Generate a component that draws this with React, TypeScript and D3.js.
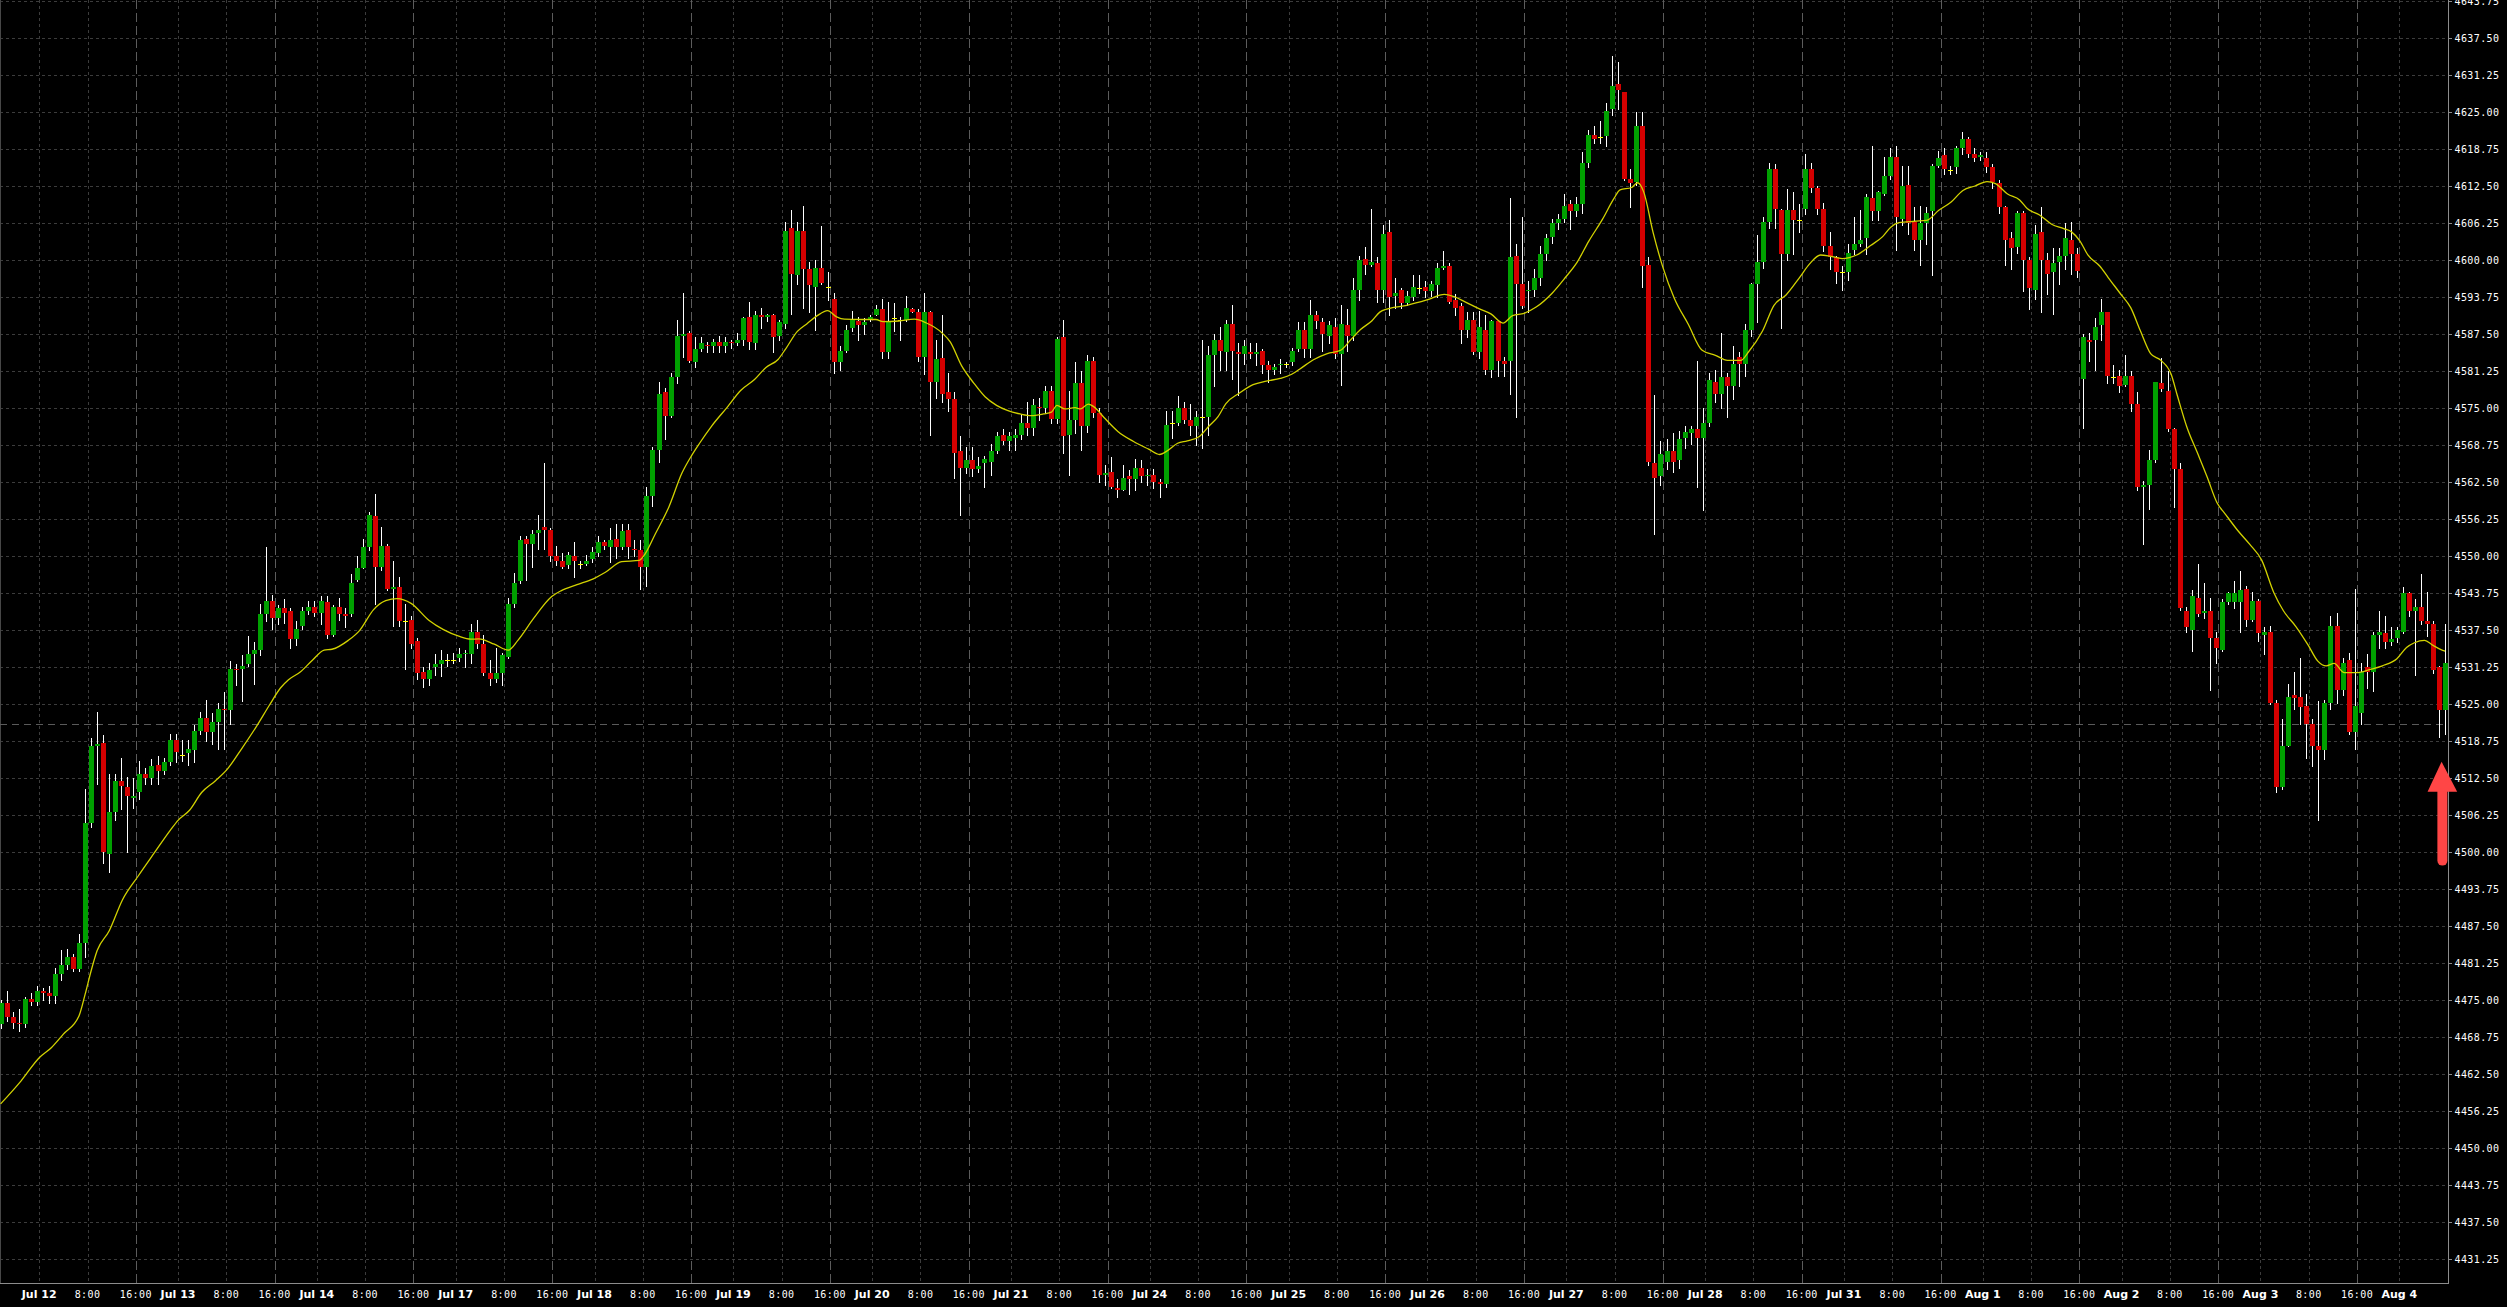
import React from "react";
import * as d3 from "d3";

const WIDTH = 2507;
const HEIGHT = 1307;
const PLOT_W = 2448; // x of right price axis line
const PLOT_H = 1283; // y of bottom time axis line

// ---------- data ----------
const dayLabels = ["Jul 12", "Jul 13", "Jul 14", "Jul 17", "Jul 18", "Jul 19", "Jul 20", "Jul 21", "Jul 24", "Jul 25", "Jul 26", "Jul 27", "Jul 28", "Jul 31", "Aug 1", "Aug 2", "Aug 3", "Aug 4"];
const hourLabels = ["8:00", "16:00"];
const hourOffsets = [8, 16];
const preBars = 6; // hourly bars of Jul 11 shown before Jul 12
const barsPerDay = 23;

const priceTicks = [4431.25, 4437.5, 4443.75, 4450, 4456.25, 4462.5, 4468.75, 4475, 4481.25, 4487.5, 4493.75, 4500, 4506.25, 4512.5, 4518.75, 4525, 4531.25, 4537.5, 4543.75, 4550, 4556.25, 4562.5, 4568.75, 4575, 4581.25, 4587.5, 4593.75, 4600, 4606.25, 4612.5, 4618.75, 4625, 4631.25, 4637.5, 4643.75];
const priceDomain = [4427.25, 4643.97];
const refLevel = 4521.75;
const arrowTop = 4515.3;
const arrowBottom = 4498.6;

const opens = [
4471, 4474.5, 4472.25, 4471.25, 4471, 4475.25, 4474.75, 4476.5, 4476.25, 4475.75,
4479.5, 4481, 4482.25, 4480.25, 4484.75, 4505, 4518, 4518.5, 4499.75, 4506.75,
4512, 4511, 4509.25, 4510.25, 4513.25, 4512.5, 4514.75, 4513.75, 4515.25, 4519,
4516.5, 4516.75, 4517.25, 4520.5, 4522.75, 4520.25, 4522, 4524.25, 4524, 4531,
4531, 4531.75, 4533.5, 4534.25, 4540.25, 4542.5, 4539.5, 4541.25, 4540.75, 4536,
4538.25, 4540.75, 4541.5, 4540.5, 4542.25, 4536.75, 4541.5, 4540.25, 4540.25, 4546,
4548, 4551.5, 4556.75, 4548.25, 4551.75, 4544.5, 4544.75, 4539, 4539.25, 4535.75,
4530.5, 4529.25, 4531.25, 4531.75, 4532.5, 4532.5, 4532.75, 4533.5, 4533.5, 4537.25,
4535.25, 4530.25, 4529.25, 4530.25, 4533, 4542, 4545.75, 4553, 4552, 4554,
4555, 4554.5, 4550, 4549.25, 4548.5, 4550, 4548.75, 4548.75, 4549.5, 4550.5,
4552.5, 4551.5, 4553, 4551.5, 4554.5, 4551.25, 4551, 4548.25, 4560.25, 4568,
4577.75, 4573.75, 4580.25, 4587.25, 4587.75, 4582.75, 4585, 4585.75, 4585.5, 4586.25,
4585.5, 4586.25, 4586, 4586.5, 4590.5, 4586, 4590.75, 4590.5, 4590.75, 4587.25,
4589.25, 4605.5, 4597.5, 4605, 4598.5, 4595.5, 4598.75, 4595.5, 4593.5, 4582.75,
4584.75, 4588.5, 4589.75, 4589, 4590, 4590.75, 4591.75, 4584.5, 4590.25, 4590,
4590, 4591.75, 4591.25, 4583.75, 4591.25, 4579.5, 4583.5, 4577.75, 4576.5, 4567.75,
4565, 4566.25, 4564.75, 4565.75, 4566, 4567.75, 4570.5, 4569.5, 4570, 4570.5,
4572.5, 4571.75, 4575.25, 4575, 4578, 4573.25, 4587, 4570.5, 4573, 4579.25,
4572, 4583, 4574.25, 4563.75, 4564.25, 4561.5, 4561.25, 4563.5, 4563, 4565,
4563.5, 4563.75, 4562.5, 4562.25, 4572.5, 4572.5, 4575, 4573, 4572, 4573.5,
4573.5, 4584, 4586.5, 4584.5, 4589.25, 4584.5, 4584.25, 4584.5, 4584.25, 4584.75,
4582.25, 4581.5, 4582.25, 4582.5, 4582.75, 4585, 4588.25, 4585, 4590.75, 4589.5,
4587.25, 4588.75, 4584.25, 4589, 4587.25, 4595, 4600.25, 4599.25, 4599.5, 4595,
4604.75, 4594, 4595, 4592.75, 4593.75, 4595.25, 4595.5, 4594.75, 4595.75, 4598.75,
4599, 4593.25, 4592.25, 4588.25, 4590, 4584.5, 4588.25, 4581.5, 4589.75, 4583,
4583, 4600.75, 4596, 4594.75, 4595, 4597, 4601, 4604, 4606.25, 4607,
4609.5, 4608.25, 4609.5, 4616.5, 4621.25, 4620.75, 4621, 4625.5, 4629.75, 4628.5,
4613.75, 4613.25, 4622.75, 4599.25, 4565.75, 4563.5, 4566, 4567.75, 4566.25, 4570,
4570.75, 4571.5, 4570, 4572.5, 4579.5, 4577.5, 4580.25, 4578.75, 4583.75, 4582.5,
4588.25, 4596, 4599.75, 4606.5, 4615.5, 4608.5, 4601, 4608.5, 4606.75, 4608.75,
4615.5, 4612.25, 4608.75, 4602.5, 4600.5, 4598, 4598, 4601.75, 4602.75, 4603.75,
4610.5, 4608.25, 4611.25, 4614.25, 4617.5, 4607, 4612.75, 4606.5, 4603.5, 4606.25,
4608.25, 4616, 4617.75, 4615.25, 4615.75, 4619, 4620.5, 4618, 4617.5, 4617.25,
4615.75, 4613, 4609, 4603.75, 4602.25, 4608, 4600, 4595, 4604.75, 4600,
4598, 4599.75, 4600.75, 4603.5, 4601, 4580, 4586.5, 4586.5, 4589, 4591.25,
4580.25, 4580.5, 4579, 4580.5, 4575.75, 4561.75, 4562, 4566.25, 4579.25, 4578,
4571.5, 4564.75, 4540.75, 4537.5, 4543, 4540.5, 4540.75, 4536.25, 4534.25, 4542.25,
4542.25, 4542.25, 4544.5, 4539.25, 4542.5, 4536.75, 4537.25, 4525.25, 4511, 4518,
4526.5, 4526.25, 4524.75, 4521.75, 4518, 4517.25, 4525.25, 4538.25, 4527.5, 4532.5,
4520.25, 4523.5, 4531.25, 4530.5, 4536.75, 4537, 4535.5, 4536.25, 4537.25, 4543.75,
4540.75, 4541.5, 4539, 4538.5, 4531.25, 4524
];

const highs = [
4475, 4476.5, 4473, 4473.5, 4475.5, 4476.25, 4477.5, 4477, 4477.5, 4480.5,
4483.5, 4483.75, 4482.75, 4486.25, 4510.75, 4519.25, 4523.75, 4519.75, 4513.25, 4513.25,
4516, 4512.75, 4512.5, 4515.5, 4514.25, 4515.75, 4516.25, 4516, 4520, 4520,
4519, 4519, 4521.5, 4523.75, 4525.75, 4523.5, 4525.25, 4527, 4532.25, 4531.75,
4533.25, 4536.5, 4535.5, 4542, 4551.5, 4543.5, 4541.75, 4542.75, 4541.25, 4539,
4541.5, 4542.5, 4542.5, 4543.25, 4543.25, 4541.75, 4543, 4541.25, 4547, 4550,
4553, 4557.5, 4560.5, 4555, 4552, 4549.25, 4546.5, 4542, 4540, 4536.25,
4531.25, 4532, 4533.5, 4534.25, 4533.5, 4533.75, 4534.5, 4534.25, 4538.5, 4539.25,
4536.75, 4532.5, 4534.5, 4533.75, 4543, 4547.25, 4553.5, 4553.5, 4554.5, 4557,
4565.75, 4554.75, 4551.75, 4550.5, 4550.75, 4552.5, 4549.25, 4550.25, 4551.5, 4553.5,
4552.75, 4554.75, 4555.5, 4555.5, 4555.5, 4552.75, 4552.75, 4561.75, 4568.5, 4579.5,
4578.5, 4581, 4590, 4594.5, 4588, 4587, 4587, 4586.25, 4586.75, 4587.25,
4587, 4586.5, 4587.75, 4590.5, 4593, 4591.5, 4592, 4591, 4591, 4590,
4606.5, 4608.5, 4606.5, 4609.25, 4599.75, 4600, 4605.75, 4598, 4594.5, 4585.5,
4589, 4591.5, 4590.5, 4590.25, 4590.75, 4592.5, 4593.5, 4593, 4592.75, 4590.5,
4594, 4592, 4591.75, 4594.5, 4591.5, 4586.5, 4590.75, 4581, 4577.75, 4570.25,
4568.5, 4568.5, 4566.75, 4567, 4569, 4571, 4571.5, 4571, 4571.5, 4574,
4576, 4576.5, 4576.75, 4578.75, 4578.75, 4587, 4590, 4578, 4582.75, 4581.25,
4584, 4583.75, 4575, 4565.5, 4566.75, 4563, 4565.5, 4564.5, 4566.5, 4566.25,
4564.75, 4564.75, 4563, 4574.5, 4574.5, 4577, 4576, 4575.75, 4574.5, 4586.5,
4585.5, 4587.5, 4588.75, 4590, 4592.5, 4586, 4586.5, 4586, 4586, 4585,
4583, 4582.5, 4583.25, 4582.75, 4585.25, 4589.5, 4589.5, 4593.25, 4591.5, 4590.25,
4589.75, 4590.25, 4592.5, 4591.75, 4597, 4600.75, 4602.25, 4608.75, 4600.5, 4606,
4606.75, 4597, 4595.25, 4594.75, 4597.5, 4597.5, 4596.5, 4596.5, 4599.5, 4601.5,
4599.5, 4594.25, 4592.75, 4591.25, 4591.25, 4591.5, 4590.75, 4590, 4590, 4583.75,
4610.5, 4602.75, 4607.25, 4596.5, 4598.5, 4602.5, 4604.5, 4607, 4607.75, 4611.25,
4610.25, 4610.75, 4618.25, 4622, 4622.75, 4623.5, 4626.5, 4634.5, 4633.5, 4628.5,
4615.5, 4625, 4625, 4600.5, 4577.25, 4569.5, 4569.75, 4570.75, 4571.25, 4572,
4572, 4583, 4575, 4581, 4581.5, 4587.75, 4581, 4585.5, 4584.5, 4589.25,
4596.25, 4604.25, 4607.25, 4616.5, 4616.25, 4608.75, 4612, 4611.5, 4609.5, 4618,
4616.5, 4612.5, 4609.75, 4604.75, 4600.75, 4599, 4602.75, 4607.25, 4608.5, 4611.25,
4619.25, 4611.75, 4617.5, 4619, 4619.25, 4616, 4616, 4609, 4609.25, 4609,
4616.25, 4618.5, 4619, 4616, 4619.25, 4621.75, 4620.75, 4619, 4618.25, 4618.25,
4616.25, 4613.5, 4609.25, 4604.75, 4608.25, 4608.25, 4600.5, 4606, 4609, 4601.25,
4602, 4602, 4606.25, 4606.5, 4602, 4587.5, 4587.75, 4590.25, 4593.5, 4591.25,
4582.25, 4581.5, 4584, 4581.25, 4577.75, 4562.75, 4568, 4579.5, 4583.5, 4581.25,
4571.75, 4565.75, 4541.5, 4544.25, 4548.75, 4545.5, 4543, 4537.25, 4542.75, 4544,
4545.75, 4547.5, 4545, 4544, 4542.75, 4538, 4538.25, 4525.75, 4522.5, 4528.5,
4530.5, 4532.75, 4526.75, 4522.5, 4525.5, 4525.75, 4540, 4540.5, 4532.75, 4533.75,
4544.5, 4532, 4533.5, 4537.25, 4540.75, 4540, 4538, 4538, 4544.75, 4544,
4542.75, 4547, 4544, 4539, 4531.5, 4538.5
];

const lows = [
4470.25, 4471.5, 4470.25, 4469.75, 4470.5, 4474.25, 4474.25, 4475, 4474.5, 4474.5,
4478.5, 4480.25, 4480, 4480, 4482.25, 4504.25, 4511.5, 4498.25, 4496.75, 4505.5,
4507.25, 4500, 4507.5, 4509, 4511.5, 4511.5, 4511.5, 4513.25, 4514.75, 4515.25,
4515.5, 4514.75, 4515.25, 4520, 4518.75, 4518.25, 4517.5, 4517.5, 4521.75, 4528.25,
4525.5, 4531.5, 4528.5, 4533.25, 4539, 4537.75, 4538.5, 4538.75, 4534.5, 4535,
4537.75, 4540.25, 4540, 4538.5, 4536.25, 4536.5, 4539.25, 4538, 4540, 4545.75,
4548, 4551, 4542, 4547.75, 4544.25, 4538.25, 4538.25, 4531, 4534.5, 4529.25,
4528, 4528.25, 4530, 4529.75, 4531.5, 4532, 4532.25, 4531.25, 4532, 4534.5,
4530, 4528.25, 4528.75, 4528.25, 4532.75, 4541.5, 4545.5, 4546, 4548.25, 4551.25,
4551.25, 4549.25, 4548.5, 4548, 4548, 4546.5, 4548, 4548.5, 4549, 4550,
4551.25, 4549, 4549.75, 4551.25, 4549.75, 4550, 4544.5, 4545, 4558.5, 4566,
4569.75, 4573.5, 4579.25, 4583.75, 4582.75, 4582, 4584.75, 4584.5, 4584.5, 4584.5,
4584.5, 4585.25, 4585.75, 4585.75, 4585, 4585, 4588.5, 4589.75, 4584.5, 4586.5,
4588.5, 4591, 4596, 4592, 4591.25, 4588.25, 4596, 4593.25, 4581, 4581.5,
4584.5, 4588, 4586.5, 4587.5, 4589.75, 4590.75, 4583.5, 4583.5, 4588, 4586.5,
4589.75, 4591.25, 4583, 4580.75, 4570.5, 4576.75, 4576, 4574.5, 4563.25, 4557,
4564, 4563.5, 4564.25, 4561.75, 4563.75, 4567.5, 4569, 4568, 4568, 4569.75,
4570.5, 4570.5, 4573, 4574.25, 4572.5, 4572.5, 4567.5, 4563.75, 4570.75, 4568,
4571, 4573.5, 4562.5, 4562, 4561.5, 4560, 4561.25, 4560.5, 4561.25, 4562.5,
4562, 4561.5, 4560, 4561.75, 4570, 4572.25, 4572.5, 4570.5, 4568.75, 4568.25,
4570.5, 4578.75, 4581.5, 4581.5, 4580, 4577.25, 4582.5, 4583.5, 4582.25, 4581,
4579.5, 4580.75, 4581, 4582, 4582.25, 4584.75, 4583.75, 4583.75, 4588.5, 4584.75,
4586, 4583.5, 4579, 4584.75, 4586.5, 4593.25, 4597.75, 4599, 4593, 4593,
4590.75, 4592, 4592, 4592.5, 4593.25, 4594.5, 4593.75, 4594, 4593.75, 4598.5,
4592.75, 4590.75, 4586, 4587, 4584.25, 4583.5, 4580.75, 4580.25, 4580.5, 4580.5,
4577.5, 4573.5, 4592, 4591.25, 4594, 4595.75, 4600, 4603, 4605.25, 4606.5,
4605.25, 4607.5, 4608, 4615.75, 4619.75, 4619.75, 4619.25, 4624.5, 4625.5, 4613.5,
4609, 4612.75, 4595.5, 4565.5, 4553.75, 4562, 4564.75, 4564.25, 4565, 4568.25,
4569, 4561.75, 4557.75, 4572, 4576, 4575, 4573.5, 4576.5, 4578.75, 4580.5,
4587.25, 4589.5, 4598.75, 4605.5, 4605.5, 4588.5, 4600, 4601, 4604.75, 4607.75,
4611.5, 4607.75, 4601.5, 4598.5, 4596.25, 4595, 4596.75, 4601, 4602.5, 4601,
4606.75, 4606.75, 4611, 4613.75, 4601.75, 4606, 4604.5, 4601.75, 4599.25, 4602.75,
4597.5, 4615.75, 4614.5, 4614.5, 4614.75, 4618, 4617.5, 4616.75, 4617, 4615,
4612.25, 4608, 4599.25, 4598.5, 4601.25, 4594.75, 4591.75, 4593.5, 4591.25, 4594.25,
4591, 4596, 4598.5, 4597.75, 4597.25, 4571.75, 4583, 4581.5, 4586.5, 4579.25,
4579.25, 4577.75, 4578.75, 4574.5, 4561.25, 4552, 4558, 4566, 4578, 4571.25,
4558.25, 4541, 4537.25, 4534, 4540, 4539.5, 4527.5, 4532, 4534, 4542,
4541.25, 4537.25, 4538.25, 4539, 4535.75, 4533.5, 4525, 4510.25, 4510.75, 4518,
4524.25, 4521.75, 4516, 4514.5, 4505.5, 4515.75, 4524.25, 4525.25, 4526.5, 4520,
4517.5, 4521.75, 4527.75, 4527.25, 4534.5, 4534.5, 4535, 4535.5, 4537, 4540,
4530, 4538.5, 4536.5, 4530.25, 4519.5, 4520
];

const closes = [
4474.5, 4472.25, 4471.25, 4471, 4475.25, 4474.75, 4476.5, 4476.25, 4475.75, 4479.5,
4481, 4482.25, 4480.25, 4484.75, 4505, 4518, 4518.25, 4500, 4506.75, 4512,
4511.25, 4509.5, 4509.5, 4513.25, 4512.5, 4514.5, 4513.75, 4515.25, 4519, 4517,
4516.5, 4517.5, 4520.5, 4522.75, 4520.25, 4522, 4524.25, 4524, 4531, 4530.75,
4531.5, 4533.5, 4534.25, 4540.25, 4542.5, 4539.5, 4541.25, 4540.5, 4536, 4537.75,
4540.75, 4541.5, 4540.5, 4542.5, 4536.75, 4541.5, 4540.25, 4540, 4545.5, 4548,
4551.5, 4557, 4548.25, 4551.75, 4544.5, 4544.75, 4539, 4539, 4535.25, 4530.25,
4529.25, 4530.75, 4531.75, 4532.5, 4532.5, 4532.5, 4533.5, 4533.75, 4537.25, 4535.25,
4530.25, 4529.25, 4530.25, 4533.25, 4542, 4545.5, 4552.75, 4552, 4553.75, 4554.5,
4554.5, 4550, 4549.25, 4548.25, 4550.25, 4549.25, 4548.75, 4549.25, 4550.75, 4552.5,
4551.75, 4552.75, 4551.5, 4554.25, 4551.5, 4551, 4548.25, 4560.25, 4568, 4577.5,
4573.75, 4580.25, 4587.25, 4587.5, 4583, 4585, 4586, 4585.5, 4586.25, 4585.5,
4586.25, 4586, 4586.5, 4590.25, 4586.25, 4590.75, 4590.5, 4590.75, 4587, 4589.5,
4605, 4597.75, 4605, 4598.5, 4595.75, 4598.75, 4596.25, 4595.5, 4582.75, 4584.75,
4588.25, 4590, 4589, 4589.5, 4590.5, 4591.75, 4584.5, 4589.75, 4590.25, 4590,
4592, 4591.25, 4583.75, 4591.25, 4579.5, 4583.25, 4577.5, 4576.5, 4567.5, 4565,
4566.25, 4564.75, 4565.25, 4566.5, 4567.75, 4570.25, 4569.5, 4570.25, 4570.5, 4572.5,
4571.75, 4575.5, 4575, 4578, 4573.25, 4586.75, 4570.25, 4573, 4579.25, 4572,
4583, 4574.25, 4563.75, 4564, 4561.75, 4561.25, 4563.25, 4563, 4565, 4563.5,
4563.75, 4562.5, 4562.25, 4572.25, 4572.5, 4575, 4573, 4572, 4573.5, 4573.5,
4584, 4586.5, 4584.75, 4589.25, 4584.75, 4584.25, 4585.5, 4584.25, 4584.5, 4582.25,
4581.5, 4582, 4582.5, 4582.5, 4584.75, 4588.25, 4585, 4590.75, 4589.75, 4587.5,
4589, 4584.25, 4589.25, 4587.25, 4595, 4600, 4599.25, 4599.75, 4595, 4604.5,
4593.75, 4594.5, 4592.75, 4594, 4595.5, 4595.25, 4594.75, 4596, 4598.75, 4599,
4593, 4592, 4588.25, 4590, 4584.5, 4588.75, 4581.5, 4589.75, 4583, 4582.5,
4600.5, 4596, 4592.25, 4595, 4597, 4601, 4603.75, 4606.25, 4607, 4609.25,
4608.25, 4609.5, 4616.5, 4621.25, 4620.5, 4620.75, 4625.25, 4629.5, 4628.75, 4613.75,
4613, 4622.75, 4599, 4566, 4563.25, 4567.25, 4567.75, 4566, 4569.75, 4571,
4571.5, 4570, 4572.5, 4579.75, 4577.5, 4580.25, 4578.75, 4582.5, 4582.5, 4588.25,
4596, 4599.75, 4606.5, 4615.5, 4608.75, 4601, 4608.5, 4606.75, 4606.75, 4615.5,
4612.25, 4608.75, 4602.5, 4600.5, 4598, 4598, 4601.25, 4602.75, 4603.5, 4610.75,
4608.25, 4611.5, 4614.25, 4617.5, 4607.25, 4612.5, 4606.25, 4603.5, 4606.25, 4608,
4616, 4617.25, 4615.5, 4615.25, 4619, 4620.5, 4618, 4617.25, 4617.75, 4615.75,
4613.25, 4609, 4603.5, 4602, 4608, 4600, 4595.25, 4604.5, 4600, 4597.75,
4599.5, 4600.75, 4603.75, 4601, 4598.25, 4587, 4586.25, 4588.75, 4591.25, 4580.5,
4580.25, 4578.75, 4580.5, 4575.75, 4561.75, 4562, 4566.25, 4579.5, 4578.25, 4571.5,
4564.75, 4541.25, 4538, 4543.25, 4540.25, 4540.75, 4536.25, 4534.5, 4542.25, 4543.75,
4543.75, 4544.25, 4539.25, 4542.5, 4537, 4537.25, 4525.25, 4511, 4518, 4526.25,
4526, 4524.5, 4521.75, 4518, 4517.25, 4525.25, 4538.25, 4527.5, 4532, 4520.25,
4524.75, 4530.5, 4530.5, 4536.75, 4537.25, 4535.5, 4536, 4537.5, 4543.75, 4540.75,
4541.5, 4539, 4538.5, 4530.75, 4524, 4532
];

// moving average at these bar positions
const maBar = [0, 3.4, 6.4, 8.4, 10.4, 13, 14, 15, 16, 18, 20.2, 22.8, 25.4, 28.1, 29.4, 31.3, 33.3, 35.6, 37.6, 39.9, 42.5, 44.5, 46.4, 47.7, 49.7, 51.7, 53.6, 54.9, 57.6, 59.5, 61.8, 63.8, 65.7, 68, 71, 73.3, 75.9, 77.9, 79.2, 81.8, 84.1, 85.7, 88.3, 91.3, 92.9, 95.5, 98.2, 100.2, 102.9, 105.8, 106.8, 108.4, 110.7, 112.9, 114.5, 115.8, 117.8, 120.4, 122.6, 124.9, 126.8, 128.8, 130.1, 132, 133.6, 135.3, 137, 138.5, 139.8, 142.4, 145, 146.2, 148.8, 151.4, 153.3, 156, 157.3, 159.2, 161.2, 163.1, 165, 166.9, 168.9, 170.8, 172.8, 174.1, 175, 176.3, 178, 178.9, 180.2, 181.2, 182.8, 185.1, 187.7, 190.2, 192, 193.4, 195, 196.6, 198.6, 200.2, 201.7, 203, 205.2, 207.5, 209.7, 212, 213.9, 215.2, 217.5, 219.8, 222, 223.7, 225.3, 227.2, 228.5, 229.8, 233, 236.3, 239.2, 240.8, 242.7, 245, 246.9, 248.9, 250.5, 252.4, 254.4, 257, 259.2, 261.2, 263.1, 265.4, 267.3, 268.3, 270.2, 271.2, 272.2, 273.8, 275.4, 277.3, 279.6, 281.9, 284.1, 286.1, 288.3, 289.6, 291.9, 293.8, 295.8, 298, 299.7, 301.5, 303.1, 305.1, 307.5, 309.8, 311.8, 313.1, 314.5, 317.1, 319.1, 321.1, 323.1, 325.1, 327.1, 329.1, 330.5, 332.5, 334.5, 335.8, 337.8, 339.8, 341.8, 343.1, 344.5, 345.8, 347.8, 349.2, 351.2, 352.9, 354.5, 356.2, 357.9, 359.6, 360.6, 362.2, 363.9, 365.6, 367.2, 368.6, 370.6, 372.6, 374.6, 376.6, 378.2, 380.3, 382.3, 383.9, 385.3, 386.6, 388.3, 390.3, 392.6, 394.6, 397, 398.6, 399.9, 401.6, 402.9, 404.3, 405];
const maValue = [4457.5, 4461.4, 4465.3, 4467, 4469.3, 4472.4, 4476, 4480, 4483.4, 4486.75, 4492, 4496, 4499.8, 4503.7, 4505.4, 4507.1, 4510.1, 4512.1, 4514.1, 4517.45, 4521.45, 4524.8, 4527.8, 4529.15, 4530.5, 4532.5, 4534.15, 4534.3, 4535.8, 4537.5, 4541, 4542.5, 4542.85, 4542.05, 4539.15, 4537.65, 4536.5, 4536, 4536.05, 4535.15, 4534.15, 4535.8, 4539.5, 4543.2, 4544.2, 4545.2, 4546.2, 4547.3, 4549.1, 4549.3, 4550.45, 4553.65, 4558.3, 4564.1, 4567.05, 4569.1, 4572, 4575.2, 4578, 4579.85, 4581.9, 4583.25, 4585.1, 4588, 4589.3, 4590.65, 4591.5, 4590.45, 4590.05, 4590, 4590, 4589.65, 4589.75, 4590.05, 4589.45, 4587.7, 4586.25, 4582.2, 4579.3, 4576.95, 4575.5, 4574.6, 4574.05, 4573.75, 4574.05, 4574.35, 4575.5, 4574.9, 4575.1, 4574.9, 4575.7, 4575.2, 4573.45, 4571.1, 4569.4, 4568.1, 4567.2, 4567.9, 4569.1, 4569.5, 4570.25, 4572, 4573.6, 4575.8, 4577.55, 4579, 4579.6, 4580.05, 4580.75, 4581.6, 4583.2, 4584.25, 4584.8, 4586.6, 4588.3, 4589.8, 4591.25, 4591.8, 4592.4, 4593.3, 4594.25, 4593.85, 4592.95, 4591.8, 4590.95, 4589.4, 4590.65, 4591.05, 4592.1, 4594.4, 4597.05, 4599.7, 4603.2, 4606.95, 4610.45, 4611.9, 4612.3, 4613.1, 4611.6, 4604.6, 4598.8, 4593.55, 4589.2, 4584.8, 4583.95, 4583.1, 4583.1, 4584.55, 4588.05, 4592.4, 4594.15, 4597.05, 4599.4, 4600.9, 4600.7, 4600.3, 4600.9, 4602.5, 4604, 4605.55, 4606.35, 4606.6, 4606.75, 4608.45, 4609.8, 4611.8, 4612.55, 4613.3, 4612.95, 4611.2, 4610.2, 4608.7, 4607.65, 4606.1, 4605.35, 4604.8, 4603.25, 4600.9, 4599, 4597.05, 4594.35, 4592, 4588.1, 4584.25, 4583.1, 4580.75, 4577.25, 4571.85, 4567.6, 4563.3, 4559.05, 4557.1, 4554.4, 4552.05, 4549.35, 4543.9, 4540.8, 4538.1, 4535, 4532.3, 4531.5, 4531.9, 4530.35, 4530.35, 4530.9, 4531.5, 4532.7, 4534.6, 4535.4, 4535.8, 4535, 4534.25, 4534];

// ---------- styles ----------
const BG = "#000000";
const GRID = "#3c3c3c";
const SEP = "#5c5c5c";
const AXIS = "#8c8c8c";
const UP = "#00a000";
const DOWN = "#d40000";
const DOJI = "#ffff00";
const WICK = "#ffffff";
const MA = "#d2d200";
const ARROW = "#ff4646";
const MONO = "'DejaVu Sans Mono', monospace";
const BOLD = "'DejaVu Sans', sans-serif";

export default function App() {
  const n = opens.length;
  const barStep = 6.036;
  const x = d3.scaleLinear().domain([0, n - 1]).range([0.6, 0.6 + barStep * (n - 1)]);
  const y = d3.scaleLinear().domain(priceDomain).range([PLOT_H, 0]);
  const gridShift = 2.4;

  const timeTicks: { bar: number; text: string; isDay: boolean; sep: boolean }[] = [];
  dayLabels.forEach((lab, d) => {
    const start = preBars + d * barsPerDay;
    timeTicks.push({ bar: start, text: lab, isDay: true, sep: false });
    hourOffsets.forEach((off, j) => {
      timeTicks.push({ bar: start + off, text: hourLabels[j], isDay: false, sep: off === 16 });
    });
  });
  const visibleTicks = timeTicks.filter((t) => t.bar < n && x(t.bar) + gridShift < PLOT_W - 4);

  const maLine = d3
    .line<number>()
    .x((_, i) => x(maBar[i]))
    .y((v) => y(v))
    .curve(d3.curveMonotoneX);

  const ax = x(n - 1) - 2.8;
  const yTip = y(arrowTop);
  const yHeadBase = yTip + 30;
  const yTail = y(arrowBottom);

  return (
    <svg
      width={WIDTH}
      height={HEIGHT}
      style={{ position: "absolute", left: 0, top: 0, display: "block", background: BG }}
    >
      <rect x={0} y={0} width={WIDTH} height={HEIGHT} fill={BG} />
      <defs>
        <clipPath id="plot">
          <rect x={0} y={0} width={PLOT_W} height={PLOT_H} />
        </clipPath>
      </defs>

      {/* horizontal grid */}
      <g shapeRendering="crispEdges">
        {priceTicks.map((v) => (
          <line key={"h" + v} x1={0} x2={PLOT_W} y1={Math.round(y(v)) + 0.5} y2={Math.round(y(v)) + 0.5} stroke={GRID} strokeDasharray="3,3" />
        ))}
        {visibleTicks.map((t) => {
          const gx = Math.round(x(t.bar) + gridShift) + 0.5;
          return (
            <line key={"v" + t.bar} x1={gx} x2={gx} y1={0} y2={PLOT_H} stroke={t.sep ? SEP : GRID} strokeDasharray={t.sep ? "9,4" : "3,3"} />
          );
        })}
        <line x1={0.5} x2={0.5} y1={0} y2={PLOT_H} stroke="#474747" />
        <line x1={0} x2={PLOT_W} y1={Math.round(y(refLevel)) + 0.5} y2={Math.round(y(refLevel)) + 0.5} stroke="#5a5a5a" strokeDasharray="7,5" />
      </g>

      {/* candles */}
      <g clipPath="url(#plot)" shapeRendering="crispEdges">
        {opens.map((o, i) => {
          const c = closes[i];
          const xc = Math.round(x(i));
          const yh = Math.round(y(highs[i]));
          const yl = Math.round(y(lows[i]));
          const yo = y(o);
          const yc = y(c);
          const top = Math.round(Math.min(yo, yc));
          const bot = Math.round(Math.max(yo, yc));
          const doji = o === c;
          return (
            <g key={i}>
              <line x1={xc + 0.5} x2={xc + 0.5} y1={yh} y2={yl + 1} stroke={WICK} strokeWidth={1} />
              {doji ? (
                <rect x={xc - 2} y={top} width={5} height={1} fill={DOJI} />
              ) : (
                <rect x={xc - 2} y={top} width={5} height={Math.max(1, bot - top)} fill={c > o ? UP : DOWN} />
              )}
            </g>
          );
        })}
      </g>

      {/* moving average */}
      <g clipPath="url(#plot)">
        <path d={maLine(maValue) || ""} fill="none" stroke={MA} strokeWidth={1.3} />
      </g>

      {/* axes */}
      <g shapeRendering="crispEdges">
        <line x1={PLOT_W + 0.5} x2={PLOT_W + 0.5} y1={0} y2={PLOT_H + 1} stroke={AXIS} />
        <line x1={0} x2={PLOT_W + 1} y1={PLOT_H + 0.5} y2={PLOT_H + 0.5} stroke={AXIS} />
        {priceTicks.map((v) => (
          <line key={"t" + v} x1={PLOT_W + 1} x2={PLOT_W + 4} y1={Math.round(y(v)) + 0.5} y2={Math.round(y(v)) + 0.5} stroke={AXIS} />
        ))}
      </g>
      {priceTicks.map((v) => (
        <text key={"l" + v} x={PLOT_W + 6.5} y={y(v) + 3.7} fill="#ffffff" fontFamily={MONO} fontSize={10} letterSpacing={0.4}>
          {v.toFixed(2)}
        </text>
      ))}
      {visibleTicks.map((t) => (
        <text
          key={"x" + t.bar}
          x={x(t.bar) + gridShift}
          y={PLOT_H + 14.5}
          textAnchor="middle"
          fill="#ffffff"
          fontFamily={t.isDay ? BOLD : MONO}
          fontWeight={t.isDay ? "bold" : "normal"}
          fontSize={t.isDay ? 11 : 10}
          letterSpacing={t.isDay ? 0 : 0.4}
        >
          {t.text}
        </text>
      ))}

      {/* annotation arrow */}
      <line x1={ax} x2={ax} y1={yHeadBase - 2} y2={yTail} stroke={ARROW} strokeWidth={10} strokeLinecap="round" />
      <path d={`M${ax - 0.8},${yTip} L${ax + 14.8},${yHeadBase} L${ax - 14.8},${yHeadBase} Z`} fill={ARROW} />
    </svg>
  );
}
